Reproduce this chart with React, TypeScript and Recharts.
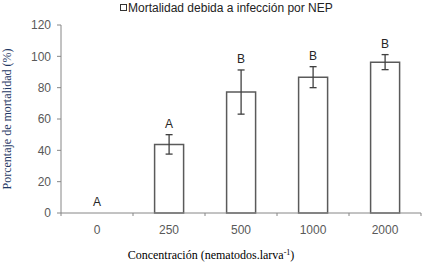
import {
  Bar,
  ComposedChart,
  ErrorBar,
  LabelList,
  Legend,
  Line,
  XAxis,
  YAxis,
} from "recharts";

const concentrations = ["0", "250", "500", "1000", "2000"];
const mortality = [0, 43.8, 77.2, 86.7, 96.3];
const mortalityErr = [0, 6.2, 14.1, 6.7, 4.8];
const groupLetters = ["A", "A", "B", "B", "B"];
const yTicks = [0, 20, 40, 60, 80, 100, 120];

const SANS = "Arial, 'Liberation Sans', sans-serif";
const SERIF = "'Times New Roman', 'Liberation Serif', serif";
const AXIS = "#868686";
const TICK_SIZE = 3;
const TICK_MARGIN = 9;

const data = concentrations.map((c, i) => ({
  conc: c,
  mortalidad: mortality[i],
  err: mortalityErr[i],
  top: mortality[i] + mortalityErr[i],
  letter: groupLetters[i],
}));

function CategoryTick(props: any) {
  const { x, y, payload, width, visibleTicksCount, index } = props;
  // ticks sit between categories, like the original spreadsheet chart
  const half = width / visibleTicksCount / 2;
  const axisY = y - TICK_SIZE - TICK_MARGIN;
  const last = index === visibleTicksCount - 1;
  return (
    <g>
      <line x1={x - half} x2={x - half} y1={axisY} y2={axisY + TICK_SIZE} stroke={AXIS} />
      {last && (
        <line x1={x + half} x2={x + half} y1={axisY} y2={axisY + TICK_SIZE} stroke={AXIS} />
      )}
      <text
        x={x}
        y={y}
        dy="0.71em"
        textAnchor="middle"
        fill="#595959"
        fontSize={12}
        fontFamily={SANS}
      >
        {payload.value}
      </text>
    </g>
  );
}

function LegendBox() {
  return (
    <div
      style={{
        display: "flex",
        alignItems: "center",
        fontFamily: SANS,
        fontSize: 12,
        color: "#222",
        whiteSpace: "nowrap",
      }}
    >
      <span
        style={{
          display: "inline-block",
          width: 5,
          height: 5,
          border: "1px solid #333",
          marginRight: 1,
          marginTop: -2,
        }}
      />
      Mortalidad debida a infección por NEP
    </div>
  );
}

export default function App() {
  return (
    <div style={{ position: "absolute", left: 0, top: 0, background: "#fff" }}>
      <ComposedChart
        width={427}
        height={270}
        data={data}
        margin={{ top: 25, right: 6, bottom: 0, left: 0 }}
        barCategoryGap="30%"
      >
        <Legend
          verticalAlign="middle"
          align="center"
          content={() => <LegendBox />}
          wrapperStyle={{ top: 1, left: 120, width: "auto" }}
        />
        <XAxis
          dataKey="conc"
          height={57}
          interval={0}
          tickLine={false}
          tickSize={TICK_SIZE}
          tickMargin={TICK_MARGIN}
          axisLine={{ stroke: AXIS }}
          tick={<CategoryTick />}
          label={{
            position: "insideBottom",
            content: ({ viewBox }: any) => (
              <text
                x={viewBox.x + viewBox.width / 2 - 30}
                y={viewBox.y + 46}
                textAnchor="middle"
                fontFamily={SERIF}
                fontSize={12}
                fill="#000"
              >
                Concentración (nematodos.larva
                <tspan dy={-4} fontSize={8}>
                  -1
                </tspan>
                <tspan dy={4}>)</tspan>
              </text>
            ),
          }}
        />
        <YAxis
          width={61}
          domain={[0, 120]}
          ticks={yTicks}
          interval={0}
          tickSize={4}
          tickMargin={6}
          tickLine={{ stroke: AXIS }}
          axisLine={{ stroke: AXIS }}
          tick={{ fill: "#595959", fontSize: 12, fontFamily: SANS }}
          label={{
            position: "insideLeft",
            content: ({ viewBox }: any) => {
              const cx = viewBox.x + 7;
              const cy = viewBox.y + viewBox.height / 2;
              return (
                <text
                  x={cx}
                  y={cy}
                  transform={`rotate(-90, ${cx}, ${cy})`}
                  textAnchor="middle"
                  dominantBaseline="central"
                  fontFamily={SERIF}
                  fontSize={12}
                  fill="#1f3864"
                >
                  Porcentaje de mortalidad (%)
                </text>
              );
            },
          }}
        />
        <Bar
          dataKey="mortalidad"
          fill="#fff"
          stroke="#5a5a5a"
          strokeWidth={1.5}
          isAnimationActive={false}
        >
          <ErrorBar dataKey="err" width={3.5} stroke="#404040" strokeWidth={1.3} />
        </Bar>
        <Line
          dataKey="top"
          stroke="none"
          dot={false}
          activeDot={false}
          legendType="none"
          isAnimationActive={false}
        >
          <LabelList
            dataKey="letter"
            position="top"
            offset={7}
            fill="#262626"
            fontSize={12}
            fontFamily={SANS}
          />
        </Line>
      </ComposedChart>
    </div>
  );
}
